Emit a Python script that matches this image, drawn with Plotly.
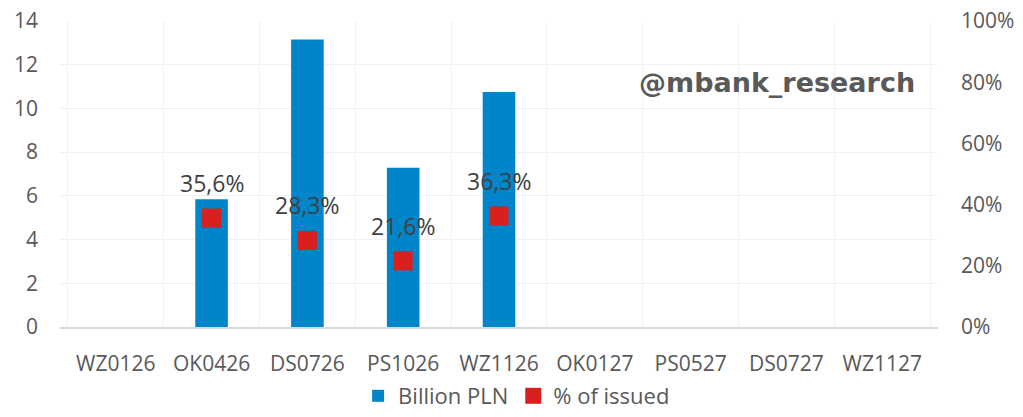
import plotly.graph_objects as go

categories = ["WZ0126", "OK0426", "DS0726", "PS1026", "WZ1126", "OK0127", "PS0527", "DS0727", "WZ1127"]
billion_pln = [None, 5.84, 13.15, 7.29, 10.75, None, None, None, None]
pct_issued = [None, 0.356, 0.283, 0.216, 0.363, None, None, None, None]
pct_labels = [None if v is None else f"{v*100:.1f}".replace(".", ",") + "%" for v in pct_issued]

FONT = "Open Sans"
TICK = dict(size=21, color="#595959", family=FONT)
fig = go.Figure()
fig.add_trace(go.Bar(x=categories, y=billion_pln, name="Billion PLN",
                     marker=dict(color="#0085CA", line=dict(width=0))))
fig.add_trace(go.Scatter(x=categories, y=pct_issued, name="% of issued", yaxis="y2",
                         mode="markers",
                         marker=dict(symbol="square", size=19, color="#DA1F1F")))

annotations = [dict(x=c, y=v, xref="x", yref="y2", text=t, showarrow=False, yshift=35,
                    font=dict(size=23, color="#404040", family=FONT))
               for c, v, t in zip(categories, pct_issued, pct_labels) if v is not None]
annotations.append(dict(text="<b>@mbank_research</b>", xref="paper", yref="paper",
                        x=0.976, y=0.80, xanchor="right", yanchor="middle", showarrow=False,
                        font=dict(size=27, color="#595959", family="DejaVu Sans")))

fig.update_layout(
    width=1023, height=417,
    margin=dict(l=60, r=85, t=21, b=90),
    paper_bgcolor="white", plot_bgcolor="white",
    font=dict(family=FONT, size=21, color="#595959"),
    bargap=0.66,
    showlegend=True,
    legend=dict(orientation="h", x=0.505, xanchor="center", xref="container",
                y=-0.008, yanchor="bottom", yref="container",
                font=dict(size=22, color="#595959"), itemwidth=30),
    xaxis=dict(type="category", tickson="boundaries", showgrid=True, gridcolor="#F2F2F2",
               gridwidth=1, showline=True, linecolor="#D9D9D9", linewidth=2, automargin=False,
               ticks="", tickfont=TICK, ticklabelstandoff=17),
    yaxis=dict(range=[0, 14], dtick=2, showgrid=True, gridcolor="#F2F2F2", zeroline=False,
               ticks="", tickfont=TICK, automargin=False, ticklabelstandoff=21),
    yaxis2=dict(range=[0, 1], dtick=0.2, tickformat=".0%", overlaying="y", side="right",
                showgrid=False, zeroline=False, ticks="", ticklabelstandoff=22, automargin=False,
                tickfont=TICK),
    annotations=annotations,
)
fig.write_html("out.html", config={"displayModeBar": False})

with open("out.html", encoding="utf-8") as f:
    html = f.read()
html = html.replace("<body>", '<body style="margin:0;padding:0;overflow:hidden">', 1)
with open("out.html", "w", encoding="utf-8") as f:
    f.write(html)
